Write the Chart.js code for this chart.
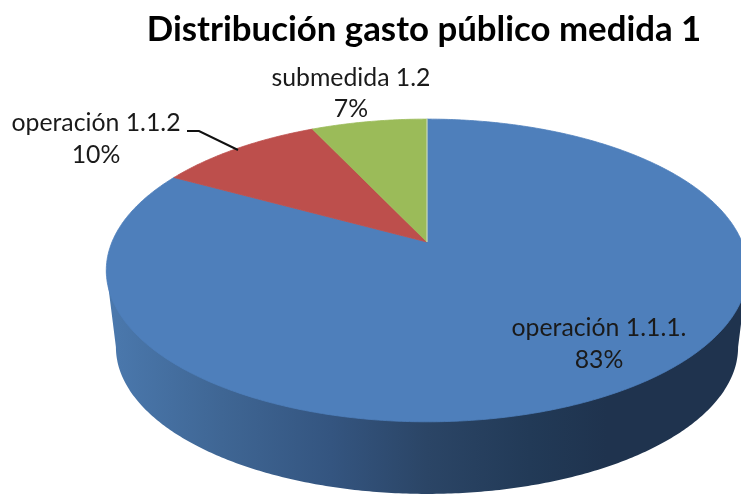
<!DOCTYPE html>
<html lang="es">
<head>
<meta charset="utf-8">
<title>Distribución gasto público medida 1</title>
<script src="https://cdn.jsdelivr.net/npm/chart.js@4"></script>
<style>
html,body{margin:0;padding:0;background:#fff;overflow:hidden}
canvas{display:block}
</style>
</head>
<body>
<canvas id="c" width="741" height="494"></canvas>
<script>
const chartTitle = "Distribución gasto público medida 1";
const categories = ["operación 1.1.1.", "operación 1.1.2", "submedida 1.2"];
const shares = [83, 10, 7];
const sliceColors = ["#4e7fbb", "#bd4f4c", "#9bbb59"];

// Label placement (layout only)
const labelSpots = [
  { x: 599, y: 328, dy: 32 },
  { x: 96, y: 123, dy: 32 },
  { x: 351, y: 78, dy: 31 }
];

// Perspective projection of the unit pie disc onto the page
const VIEW = { cx: 427, cy: 242, A: 315, B: 146, k: 0.188 };
const WALL = { cx: 427, cy: 319.5, A: 315 * 0.97, B: 146 * 0.97, k: 0.188 };
function project(view, angle) {
  const u = Math.cos(angle), v = Math.sin(angle), w = 1 - view.k * v;
  return { x: view.cx + view.A * u / w, y: view.cy + view.B * v / w };
}
function rimPath(ctx, view, start, end) {
  const steps = Math.max(8, Math.ceil(Math.abs(end - start) / 0.01));
  for (let i = 0; i <= steps; i++) {
    const p = project(view, start + (end - start) * i / steps);
    ctx.lineTo(p.x, p.y);
  }
}

const pie3d = {
  id: "pie3d",
  beforeDatasetDraw(chart, args) {
    const ctx = chart.ctx;
    const arcs = chart.getDatasetMeta(args.index).data;
    const tan = Math.atan2(VIEW.k, Math.sqrt(1 - VIEW.k * VIEW.k));

    // Side wall
    const g = ctx.createLinearGradient(106, 0, 748, 0);
    g.addColorStop(0, "#4b79ae");
    g.addColorStop(0.18, "#3f6694");
    g.addColorStop(0.35, "#345580");
    g.addColorStop(0.5, "#2b4566");
    g.addColorStop(0.66, "#223a57");
    g.addColorStop(0.78, "#1f334e");
    g.addColorStop(1, "#1f334e");
    ctx.save();
    ctx.fillStyle = g;
    ctx.beginPath();
    const tl = project(VIEW, Math.PI - tan), tr = project(VIEW, tan);
    ctx.moveTo(tl.x, tl.y);
    rimPath(ctx, WALL, Math.PI - tan, tan);
    ctx.lineTo(tr.x, tr.y);
    ctx.closePath();
    ctx.fill();

    // Top face: one wedge per arc element, using the angles Chart.js computed
    arcs.forEach((arc, i) => {
      const { startAngle, endAngle } = arc.getProps(["startAngle", "endAngle"], true);
      ctx.beginPath();
      ctx.moveTo(VIEW.cx, VIEW.cy);
      rimPath(ctx, VIEW, startAngle, endAngle);
      ctx.closePath();
      ctx.fillStyle = sliceColors[i];
      ctx.fill();
      ctx.lineWidth = 0.8;
      ctx.strokeStyle = sliceColors[i];
      ctx.stroke();
    });

    // Thin light seam along the top of the first slice
    const top = project(VIEW, -Math.PI / 2);
    ctx.beginPath();
    ctx.moveTo(VIEW.cx, VIEW.cy);
    ctx.lineTo(top.x, top.y);
    ctx.lineWidth = 1;
    ctx.strokeStyle = "rgba(225,232,240,0.8)";
    ctx.stroke();
    ctx.restore();
    return false;
  },
  afterDatasetsDraw(chart) {
    const ctx = chart.ctx;
    ctx.save();

    // Leader line for the second label
    ctx.beginPath();
    ctx.moveTo(187, 131);
    ctx.lineTo(199, 131);
    ctx.lineTo(238, 150);
    ctx.lineWidth = 2;
    ctx.strokeStyle = "#111";
    ctx.stroke();

    ctx.font = "24.8px Lato";
    ctx.fillStyle = "#1a1a1a";
    ctx.textAlign = "center";
    ctx.textBaseline = "middle";
    categories.forEach((name, i) => {
      const s = labelSpots[i];
      ctx.fillText(name, s.x, s.y);
      ctx.fillText(shares[i] + "%", s.x, s.y + s.dy);
    });
    ctx.restore();
  }
};

new Chart(document.getElementById("c"), {
  type: "pie",
  data: {
    labels: categories,
    datasets: [{ data: shares, backgroundColor: sliceColors, borderWidth: 0 }]
  },
  options: {
    responsive: false,
    animation: false,
    devicePixelRatio: 1,
    layout: { padding: { left: 107 } },
    plugins: {
      legend: { display: false },
      tooltip: { enabled: false },
      title: {
        display: true,
        text: chartTitle,
        color: "#000",
        font: { family: "Lato", size: 34.8, weight: "bold" },
        padding: { top: 9, bottom: 0 }
      }
    }
  },
  plugins: [pie3d]
});
</script>
</body>
</html>
